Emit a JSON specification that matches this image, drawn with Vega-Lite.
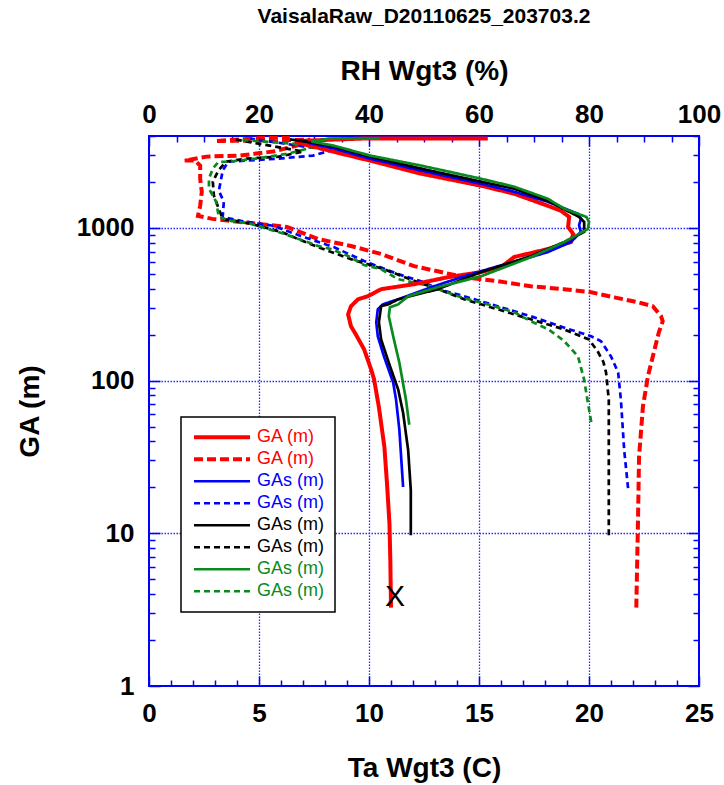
{
  "$schema": "https://vega.github.io/schema/vega-lite/v6.json",
  "width": 550,
  "height": 550,
  "autosize": {"type": "none"},
  "padding": {"left": 149, "top": 136, "right": 25, "bottom": 99},
  "background": "white",
  "title": {"text": "VaisalaRaw_D20110625_203703.2", "font": "Liberation Sans", "fontSize": 21, "fontWeight": "bold", "color": "black", "anchor": "middle", "offset": 30},
  "config": {"view": {"stroke": "#0000ff", "strokeWidth": 2}, "font": "Liberation Sans"},
  "datasets": {
    "rh": [
      {"series":"r_d","RH":88.6,"GA":3.26},{"series":"r_d","RH":88.9,"GA":11.6},{"series":"r_d","RH":89.1,"GA":31.6},{"series":"r_d","RH":89.8,"GA":67.4},{"series":"r_d","RH":90.7,"GA":106},{"series":"r_d","RH":91.6,"GA":144},{"series":"r_d","RH":92.7,"GA":207},{"series":"r_d","RH":93.4,"GA":245},{"series":"r_d","RH":93.1,"GA":264},{"series":"r_d","RH":91.6,"GA":307},{"series":"r_d","RH":88.9,"GA":326},{"series":"r_d","RH":84.6,"GA":351},{"series":"r_d","RH":80.4,"GA":379},{"series":"r_d","RH":75.4,"GA":397},{"series":"r_d","RH":69.4,"GA":415},{"series":"r_d","RH":63.4,"GA":448},{"series":"r_d","RH":57.3,"GA":476},{"series":"r_d","RH":53.1,"GA":514},{"series":"r_d","RH":48.2,"GA":562},{"series":"r_d","RH":42.2,"GA":675},{"series":"r_d","RH":36.7,"GA":762},{"series":"r_d","RH":30.7,"GA":847},{"series":"r_d","RH":25.1,"GA":1016},{"series":"r_d","RH":18.4,"GA":1077},{"series":"r_d","RH":11.5,"GA":1146},{"series":"r_d","RH":8.9,"GA":1200},{"series":"r_d","RH":9.3,"GA":1396},{"series":"r_d","RH":9.6,"GA":1726},{"series":"r_d","RH":9.3,"GA":2100},{"series":"r_d","RH":9.3,"GA":2558},{"series":"r_d","RH":8.4,"GA":2760},{"series":"r_d","RH":6.5,"GA":2760},{"series":"r_d","RH":10.5,"GA":2931},{"series":"r_d","RH":16.5,"GA":2978},{"series":"r_d","RH":22.5,"GA":3162},{"series":"r_d","RH":26.9,"GA":3464},{"series":"r_d","RH":29.3,"GA":3780},{"series":"r_d","RH":12.0,"GA":3707},{"series":"r_d","RH":25.6,"GA":3990},
      {"series":"b_d","RH":87.1,"GA":19.8},{"series":"b_d","RH":86.4,"GA":35},{"series":"b_d","RH":85.8,"GA":75},{"series":"b_d","RH":85.3,"GA":113},{"series":"b_d","RH":84.0,"GA":144},{"series":"b_d","RH":82.2,"GA":181},{"series":"b_d","RH":80.4,"GA":195},{"series":"b_d","RH":75.4,"GA":223},{"series":"b_d","RH":69.4,"GA":264},{"series":"b_d","RH":63.4,"GA":307},{"series":"b_d","RH":57.3,"GA":357},{"series":"b_d","RH":52.6,"GA":397},{"series":"b_d","RH":50.0,"GA":441},{"series":"b_d","RH":45.3,"GA":498},{"series":"b_d","RH":39.1,"GA":607},{"series":"b_d","RH":33.6,"GA":749},{"series":"b_d","RH":27.6,"GA":885},{"series":"b_d","RH":22.7,"GA":1031},{"series":"b_d","RH":16.7,"GA":1112},{"series":"b_d","RH":13.4,"GA":1181},{"series":"b_d","RH":13.6,"GA":1483},{"series":"b_d","RH":12.7,"GA":1751},{"series":"b_d","RH":13.4,"GA":2371},{"series":"b_d","RH":14.4,"GA":2716},{"series":"b_d","RH":17.6,"GA":2760},{"series":"b_d","RH":23.6,"GA":2843},{"series":"b_d","RH":29.8,"GA":2978},{"series":"b_d","RH":33.1,"GA":3214},{"series":"b_d","RH":18.4,"GA":3850},
      {"series":"k_d","RH":83.6,"GA":9.7},{"series":"k_d","RH":83.6,"GA":36.3},{"series":"k_d","RH":83.6,"GA":75},{"series":"k_d","RH":83.1,"GA":113},{"series":"k_d","RH":82.6,"GA":133},{"series":"k_d","RH":81.6,"GA":155},{"series":"k_d","RH":80.0,"GA":186},{"series":"k_d","RH":75.4,"GA":217},{"series":"k_d","RH":69.4,"GA":252},{"series":"k_d","RH":63.4,"GA":293},{"series":"k_d","RH":57.3,"GA":341},{"series":"k_d","RH":52.6,"GA":397},{"series":"k_d","RH":48.9,"GA":441},{"series":"k_d","RH":42.7,"GA":537},{"series":"k_d","RH":36.7,"GA":625},{"series":"k_d","RH":30.7,"GA":749},{"series":"k_d","RH":24.0,"GA":942},{"series":"k_d","RH":18.6,"GA":1063},{"series":"k_d","RH":13.4,"GA":1146},{"series":"k_d","RH":12.7,"GA":1334},{"series":"k_d","RH":11.8,"GA":1625},{"series":"k_d","RH":11.6,"GA":2009},{"series":"k_d","RH":12.6,"GA":2371},{"series":"k_d","RH":14.0,"GA":2716},{"series":"k_d","RH":17.6,"GA":2843},{"series":"k_d","RH":23.6,"GA":2931},{"series":"k_d","RH":28.0,"GA":3162},{"series":"k_d","RH":15.6,"GA":3800},
      {"series":"g_d","RH":80.4,"GA":53.6},{"series":"g_d","RH":79.8,"GA":71.6},{"series":"g_d","RH":79.1,"GA":102},{"series":"g_d","RH":78.0,"GA":144},{"series":"g_d","RH":75.4,"GA":183},{"series":"g_d","RH":72.6,"GA":217},{"series":"g_d","RH":69.4,"GA":245},{"series":"g_d","RH":66.4,"GA":280},{"series":"g_d","RH":61.6,"GA":316},{"series":"g_d","RH":57.3,"GA":346},{"series":"g_d","RH":53.1,"GA":391},{"series":"g_d","RH":51.3,"GA":415},{"series":"g_d","RH":45.3,"GA":462},{"series":"g_d","RH":42.2,"GA":537},{"series":"g_d","RH":39.1,"GA":571},{"series":"g_d","RH":36.2,"GA":655},{"series":"g_d","RH":33.1,"GA":727},{"series":"g_d","RH":30.7,"GA":763},{"series":"g_d","RH":24.6,"GA":914},{"series":"g_d","RH":18.6,"GA":1063},{"series":"g_d","RH":14.9,"GA":1112},{"series":"g_d","RH":12.7,"GA":1181},{"series":"g_d","RH":12.2,"GA":1483},{"series":"g_d","RH":10.9,"GA":1806},{"series":"g_d","RH":10.9,"GA":2100},{"series":"g_d","RH":11.6,"GA":2444},{"series":"g_d","RH":12.6,"GA":2702},{"series":"g_d","RH":14.6,"GA":2716},{"series":"g_d","RH":19.4,"GA":2843},{"series":"g_d","RH":25.4,"GA":3069},{"series":"g_d","RH":30.9,"GA":3464},{"series":"g_d","RH":16.5,"GA":3780}
    ],
    "ta": [
      {"series":"r_s","Ta":11.0,"GA":3.26},{"series":"r_s","Ta":10.97,"GA":6.6},{"series":"r_s","Ta":10.93,"GA":11.6},{"series":"r_s","Ta":10.82,"GA":21},{"series":"r_s","Ta":10.7,"GA":36.8},{"series":"r_s","Ta":10.45,"GA":67},{"series":"r_s","Ta":10.23,"GA":102},{"series":"r_s","Ta":10.1,"GA":118},{"series":"r_s","Ta":9.78,"GA":160},{"series":"r_s","Ta":9.4,"GA":201},{"series":"r_s","Ta":9.18,"GA":227},{"series":"r_s","Ta":9.05,"GA":272},{"series":"r_s","Ta":9.18,"GA":307},{"series":"r_s","Ta":9.5,"GA":341},{"series":"r_s","Ta":9.95,"GA":357},{"series":"r_s","Ta":10.55,"GA":397},{"series":"r_s","Ta":12.05,"GA":428},{"series":"r_s","Ta":13.6,"GA":476},{"series":"r_s","Ta":15.1,"GA":514},{"series":"r_s","Ta":16.0,"GA":554},{"series":"r_s","Ta":16.6,"GA":645},{"series":"r_s","Ta":18.13,"GA":727},{"series":"r_s","Ta":19.18,"GA":809},{"series":"r_s","Ta":19.28,"GA":914},{"series":"r_s","Ta":19.05,"GA":1016},{"series":"r_s","Ta":19.1,"GA":1181},{"series":"r_s","Ta":18.73,"GA":1294},{"series":"r_s","Ta":18.13,"GA":1396},{"series":"r_s","Ta":16.6,"GA":1675},{"series":"r_s","Ta":15.1,"GA":1890},{"series":"r_s","Ta":12.38,"GA":2265},{"series":"r_s","Ta":10.05,"GA":2760},{"series":"r_s","Ta":8.73,"GA":3069},{"series":"r_s","Ta":7.83,"GA":3311},{"series":"r_s","Ta":7.13,"GA":3500},{"series":"r_s","Ta":6.64,"GA":3707},{"series":"r_s","Ta":9.73,"GA":3850},{"series":"r_s","Ta":15.4,"GA":3850},
      {"series":"b_s","Ta":11.55,"GA":20.1},{"series":"b_s","Ta":11.38,"GA":47.6},{"series":"b_s","Ta":11.23,"GA":75},{"series":"b_s","Ta":11.1,"GA":97},{"series":"b_s","Ta":10.68,"GA":144},{"series":"b_s","Ta":10.4,"GA":195},{"series":"b_s","Ta":10.33,"GA":241},{"series":"b_s","Ta":10.4,"GA":293},{"series":"b_s","Ta":10.63,"GA":316},{"series":"b_s","Ta":11.33,"GA":341},{"series":"b_s","Ta":12.83,"GA":409},{"series":"b_s","Ta":14.33,"GA":483},{"series":"b_s","Ta":15.88,"GA":562},{"series":"b_s","Ta":17.05,"GA":625},{"series":"b_s","Ta":18.13,"GA":695},{"series":"b_s","Ta":19.18,"GA":809},{"series":"b_s","Ta":19.63,"GA":942},{"series":"b_s","Ta":19.55,"GA":1040},{"series":"b_s","Ta":19.63,"GA":1146},{"series":"b_s","Ta":19.5,"GA":1236},{"series":"b_s","Ta":18.13,"GA":1483},{"series":"b_s","Ta":16.6,"GA":1726},{"series":"b_s","Ta":15.1,"GA":1947},{"series":"b_s","Ta":12.38,"GA":2371},{"series":"b_s","Ta":10.05,"GA":2843},{"series":"b_s","Ta":8.4,"GA":3311},{"series":"b_s","Ta":7.38,"GA":3574},{"series":"b_s","Ta":6.86,"GA":3765},
      {"series":"k_s","Ta":11.9,"GA":9.7},{"series":"k_s","Ta":11.9,"GA":19.2},{"series":"k_s","Ta":11.78,"GA":35},{"series":"k_s","Ta":11.55,"GA":61.6},{"series":"k_s","Ta":11.33,"GA":87},{"series":"k_s","Ta":10.9,"GA":131},{"series":"k_s","Ta":10.55,"GA":186},{"series":"k_s","Ta":10.45,"GA":241},{"series":"k_s","Ta":10.55,"GA":307},{"series":"k_s","Ta":10.88,"GA":316},{"series":"k_s","Ta":11.33,"GA":341},{"series":"k_s","Ta":13.13,"GA":397},{"series":"k_s","Ta":15.1,"GA":514},{"series":"k_s","Ta":17.38,"GA":655},{"series":"k_s","Ta":18.88,"GA":809},{"series":"k_s","Ta":19.78,"GA":942},{"series":"k_s","Ta":19.78,"GA":1095},{"series":"k_s","Ta":19.55,"GA":1181},{"series":"k_s","Ta":18.13,"GA":1505},{"series":"k_s","Ta":16.6,"GA":1806},{"series":"k_s","Ta":15.1,"GA":2009},{"series":"k_s","Ta":12.38,"GA":2444},{"series":"k_s","Ta":10.05,"GA":2931},{"series":"k_s","Ta":8.4,"GA":3412},{"series":"k_s","Ta":7.13,"GA":3683},{"series":"k_s","Ta":6.41,"GA":3800},
      {"series":"g_s","Ta":11.83,"GA":51.4},{"series":"g_s","Ta":11.68,"GA":75},{"series":"g_s","Ta":11.38,"GA":131},{"series":"g_s","Ta":11.1,"GA":195},{"series":"g_s","Ta":10.9,"GA":264},{"series":"g_s","Ta":10.95,"GA":302},{"series":"g_s","Ta":11.33,"GA":316},{"series":"g_s","Ta":11.78,"GA":357},{"series":"g_s","Ta":13.13,"GA":409},{"series":"g_s","Ta":15.1,"GA":483},{"series":"g_s","Ta":17.38,"GA":645},{"series":"g_s","Ta":18.88,"GA":809},{"series":"g_s","Ta":19.95,"GA":985},{"series":"g_s","Ta":20.0,"GA":1095},{"series":"g_s","Ta":19.88,"GA":1181},{"series":"g_s","Ta":18.88,"GA":1334},{"series":"g_s","Ta":18.13,"GA":1552},{"series":"g_s","Ta":16.6,"GA":1862},{"series":"g_s","Ta":15.1,"GA":2100},{"series":"g_s","Ta":12.38,"GA":2558},{"series":"g_s","Ta":10.05,"GA":2978},{"series":"g_s","Ta":8.4,"GA":3459},{"series":"g_s","Ta":7.38,"GA":3683},{"series":"g_s","Ta":8.2,"GA":3850},{"series":"g_s","Ta":10.5,"GA":3850}
    ],
    "xmark": [{"label": "X", "Ta": 11.18, "GA": 3.8}]
  },
  "layer": [
    {
      "data": {"name": "rh"},
      "mark": {"type": "line", "clip": true},
      "encoding": {
        "x": {"field": "RH", "type": "quantitative", "scale": {"domain": [0, 100], "nice": false, "zero": false},
          "axis": {"orient": "top", "values": [0,5,10,15,20,25,30,35,40,45,50,55,60,65,70,75,80,85,90,95,100],
            "title": "RH Wgt3 (%)", "titleFont": "Liberation Sans", "titleFontSize": 28, "titleFontWeight": "bold", "titleColor": "black", "titlePadding": 12,
            "labelExpr": "datum.value % 20 == 0 ? datum.label : ''", "labelFont": "Liberation Sans", "labelFontSize": 26, "labelFontWeight": "bold", "labelColor": "black",
            "labelPadding": 19, "labelFlush": false, "labelOverlap": false, "domain": false, "grid": false,
            "tickColor": "#0000ff", "tickWidth": 1.5,
            "tickSize": {"condition": {"test": "datum.value % 20 == 0", "value": -10}, "value": -6}}},
        "y": {"field": "GA", "type": "quantitative", "scale": {"type": "log", "domain": [1, 4000], "nice": false},
          "axis": {"orient": "right", "values": [1,2,3,4,5,6,7,8,9,10,20,30,40,50,60,70,80,90,100,200,300,400,500,600,700,800,900,1000,2000,3000,4000],
            "title": null, "labels": false, "domain": false, "grid": false, "tickColor": "#0000ff", "tickWidth": 1.5,
            "tickSize": {"condition": {"test": "datum.value == 1 || datum.value == 10 || datum.value == 100 || datum.value == 1000", "value": -11}, "value": -6}}},
        "color": {"field": "series", "type": "nominal",
          "scale": {"domain": ["r_s","r_d","b_s","b_d","k_s","k_d","g_s","g_d"], "range": ["#ff0000","#ff0000","#0000ff","#0000ff","#000000","#000000","#0a8a1e","#0a8a1e"]},
          "legend": {"title": null, "orient": "none", "legendX": 32, "legendY": 281, "padding": 11, "strokeColor": "black", "fillColor": "white",
            "symbolType": "stroke", "symbolSize": 3136, "clipHeight": 18.5, "rowPadding": 3,
            "labelFont": "Liberation Sans", "labelFontSize": 18, "labelOffset": 5,
            "labelExpr": "indexof(datum.value, 'r') == 0 ? 'GA (m)' : 'GAs (m)'",
            "encode": {"labels": {"update": {"fill": {"signal": "scale('color', datum.value)"}}}, "legend": {"update": {"strokeWidth": {"value": 1.5}}}}}},
        "strokeDash": {"field": "series", "type": "nominal",
          "scale": {"domain": ["r_s","r_d","b_s","b_d","k_s","k_d","g_s","g_d"], "range": [[1,0],[9,4],[1,0],[6,4],[1,0],[6,4],[1,0],[6,4]]},
          "legend": {"title": null, "orient": "none", "legendX": 32, "legendY": 281, "padding": 11, "strokeColor": "black", "fillColor": "white",
            "symbolType": "stroke", "symbolSize": 3136, "clipHeight": 18.5, "rowPadding": 3,
            "labelFont": "Liberation Sans", "labelFontSize": 18, "labelOffset": 5,
            "labelExpr": "indexof(datum.value, 'r') == 0 ? 'GA (m)' : 'GAs (m)'",
            "encode": {"labels": {"update": {"fill": {"signal": "scale('color', datum.value)"}}}, "legend": {"update": {"strokeWidth": {"value": 1.5}}}}}},
        "strokeWidth": {"field": "series", "type": "nominal",
          "scale": {"type": "ordinal", "domain": ["r_s","r_d","b_s","b_d","k_s","k_d","g_s","g_d"], "range": [4,4,2.7,2.7,2.7,2.7,2.7,2.7]},
          "legend": {"title": null, "orient": "none", "legendX": 32, "legendY": 281, "padding": 11, "strokeColor": "black", "fillColor": "white",
            "symbolType": "stroke", "symbolSize": 3136, "clipHeight": 18.5, "rowPadding": 3,
            "labelFont": "Liberation Sans", "labelFontSize": 18, "labelOffset": 5,
            "labelExpr": "indexof(datum.value, 'r') == 0 ? 'GA (m)' : 'GAs (m)'",
            "encode": {"labels": {"update": {"fill": {"signal": "scale('color', datum.value)"}}}, "legend": {"update": {"strokeWidth": {"value": 1.5}}}}}},
        "order": {"value": null}
      }
    },
    {
      "data": {"name": "ta"},
      "mark": {"type": "line", "clip": true},
      "encoding": {
        "x": {"field": "Ta", "type": "quantitative", "scale": {"domain": [0, 25], "nice": false, "zero": false},
          "axis": {"orient": "bottom", "values": [0,1,2,3,4,5,6,7,8,9,10,11,12,13,14,15,16,17,18,19,20,21,22,23,24,25],
            "title": "Ta Wgt3 (C)", "titleFont": "Liberation Sans", "titleFontSize": 28, "titleFontWeight": "bold", "titleColor": "black", "titlePadding": 24,
            "labelExpr": "datum.value % 5 == 0 ? datum.label : ''", "labelFont": "Liberation Sans", "labelFontSize": 26, "labelFontWeight": "bold", "labelColor": "black",
            "labelPadding": 24, "labelFlush": false, "labelOverlap": false, "domain": false,
            "tickColor": "#0000ff", "tickWidth": 1.5,
            "tickSize": {"condition": {"test": "datum.value % 5 == 0", "value": -10}, "value": -6},
            "grid": true, "gridColor": "#2a2aff", "gridDash": [1.5, 1.5], "gridWidth": 1.3,
            "gridOpacity": {"condition": {"test": "datum.value % 5 == 0 && datum.value > 0 && datum.value < 25", "value": 1}, "value": 0}}},
        "y": {"field": "GA", "type": "quantitative", "scale": {"type": "log", "domain": [1, 4000], "nice": false},
          "axis": {"orient": "left", "values": [1,2,3,4,5,6,7,8,9,10,20,30,40,50,60,70,80,90,100,200,300,400,500,600,700,800,900,1000,2000,3000,4000],
            "format": "d",
            "title": "GA (m)", "titleFont": "Liberation Sans", "titleFontSize": 28, "titleFontWeight": "bold", "titleColor": "black", "titlePadding": 32,
            "labelExpr": "(datum.value == 1 || datum.value == 10 || datum.value == 100 || datum.value == 1000) ? datum.label : ''",
            "labelFont": "Liberation Sans", "labelFontSize": 26, "labelFontWeight": "bold", "labelColor": "black",
            "labelPadding": 26, "labelFlush": false, "labelOverlap": false, "domain": false,
            "tickColor": "#0000ff", "tickWidth": 1.5,
            "tickSize": {"condition": {"test": "datum.value == 1 || datum.value == 10 || datum.value == 100 || datum.value == 1000", "value": -11}, "value": -6},
            "grid": true, "gridColor": "#2a2aff", "gridDash": [1.5, 1.5], "gridWidth": 1.3,
            "gridOpacity": {"condition": {"test": "datum.value == 10 || datum.value == 100 || datum.value == 1000", "value": 1}, "value": 0}}},
        "color": {"field": "series", "type": "nominal",
          "scale": {"domain": ["r_s","r_d","b_s","b_d","k_s","k_d","g_s","g_d"], "range": ["#ff0000","#ff0000","#0000ff","#0000ff","#000000","#000000","#0a8a1e","#0a8a1e"]},
          "legend": {"title": null, "orient": "none", "legendX": 32, "legendY": 281, "padding": 11, "strokeColor": "black", "fillColor": "white",
            "symbolType": "stroke", "symbolSize": 3136, "clipHeight": 18.5, "rowPadding": 3,
            "labelFont": "Liberation Sans", "labelFontSize": 18, "labelOffset": 5,
            "labelExpr": "indexof(datum.value, 'r') == 0 ? 'GA (m)' : 'GAs (m)'",
            "encode": {"labels": {"update": {"fill": {"signal": "scale('color', datum.value)"}}}, "legend": {"update": {"strokeWidth": {"value": 1.5}}}}}},
        "strokeDash": {"field": "series", "type": "nominal",
          "scale": {"domain": ["r_s","r_d","b_s","b_d","k_s","k_d","g_s","g_d"], "range": [[1,0],[9,4],[1,0],[6,4],[1,0],[6,4],[1,0],[6,4]]},
          "legend": {"title": null, "orient": "none", "legendX": 32, "legendY": 281, "padding": 11, "strokeColor": "black", "fillColor": "white",
            "symbolType": "stroke", "symbolSize": 3136, "clipHeight": 18.5, "rowPadding": 3,
            "labelFont": "Liberation Sans", "labelFontSize": 18, "labelOffset": 5,
            "labelExpr": "indexof(datum.value, 'r') == 0 ? 'GA (m)' : 'GAs (m)'",
            "encode": {"labels": {"update": {"fill": {"signal": "scale('color', datum.value)"}}}, "legend": {"update": {"strokeWidth": {"value": 1.5}}}}}},
        "strokeWidth": {"field": "series", "type": "nominal",
          "scale": {"type": "ordinal", "domain": ["r_s","r_d","b_s","b_d","k_s","k_d","g_s","g_d"], "range": [4,4,2.7,2.7,2.7,2.7,2.7,2.7]},
          "legend": {"title": null, "orient": "none", "legendX": 32, "legendY": 281, "padding": 11, "strokeColor": "black", "fillColor": "white",
            "symbolType": "stroke", "symbolSize": 3136, "clipHeight": 18.5, "rowPadding": 3,
            "labelFont": "Liberation Sans", "labelFontSize": 18, "labelOffset": 5,
            "labelExpr": "indexof(datum.value, 'r') == 0 ? 'GA (m)' : 'GAs (m)'",
            "encode": {"labels": {"update": {"fill": {"signal": "scale('color', datum.value)"}}}, "legend": {"update": {"strokeWidth": {"value": 1.5}}}}}},
        "order": {"value": null}
      }
    },
    {
      "data": {"name": "xmark"},
      "mark": {"type": "text", "font": "Liberation Sans", "fontSize": 30, "color": "black", "align": "center", "baseline": "middle"},
      "encoding": {
        "x": {"field": "Ta", "type": "quantitative", "scale": {"domain": [0, 25], "nice": false, "zero": false}, "axis": null},
        "y": {"field": "GA", "type": "quantitative", "axis": null},
        "text": {"field": "label"}
      }
    }
  ],
  "resolve": {"scale": {"x": "independent"}, "axis": {"x": "independent", "y": "independent"}}
}
